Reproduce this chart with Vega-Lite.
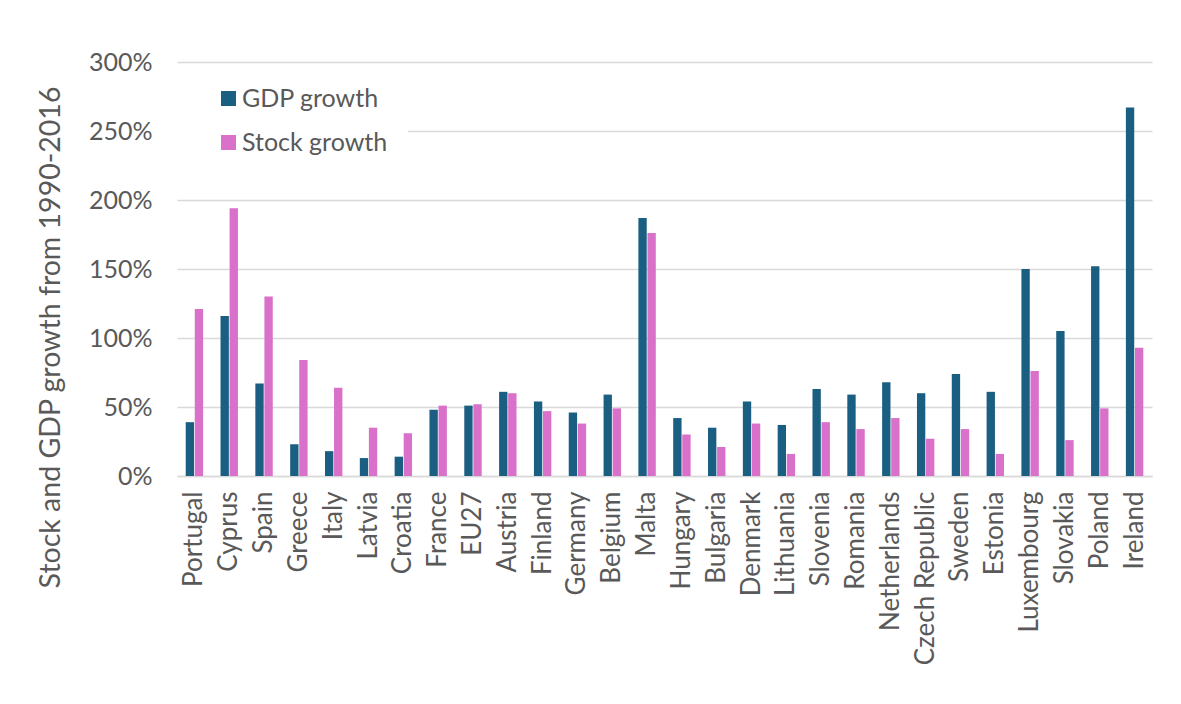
{
  "$schema": "https://vega.github.io/schema/vega-lite/v6.json",
  "width": 975,
  "height": 414,
  "autosize": {"type": "none"},
  "padding": {"left": 177, "top": 62, "right": 29, "bottom": 228},
  "background": "white",
  "data": {"values": [
    {"country": "Portugal", "series": "GDP growth", "value": 0.39},
    {"country": "Portugal", "series": "Stock growth", "value": 1.21},
    {"country": "Cyprus", "series": "GDP growth", "value": 1.16},
    {"country": "Cyprus", "series": "Stock growth", "value": 1.94},
    {"country": "Spain", "series": "GDP growth", "value": 0.67},
    {"country": "Spain", "series": "Stock growth", "value": 1.30},
    {"country": "Greece", "series": "GDP growth", "value": 0.23},
    {"country": "Greece", "series": "Stock growth", "value": 0.84},
    {"country": "Italy", "series": "GDP growth", "value": 0.18},
    {"country": "Italy", "series": "Stock growth", "value": 0.64},
    {"country": "Latvia", "series": "GDP growth", "value": 0.13},
    {"country": "Latvia", "series": "Stock growth", "value": 0.35},
    {"country": "Croatia", "series": "GDP growth", "value": 0.14},
    {"country": "Croatia", "series": "Stock growth", "value": 0.31},
    {"country": "France", "series": "GDP growth", "value": 0.48},
    {"country": "France", "series": "Stock growth", "value": 0.51},
    {"country": "EU27", "series": "GDP growth", "value": 0.51},
    {"country": "EU27", "series": "Stock growth", "value": 0.52},
    {"country": "Austria", "series": "GDP growth", "value": 0.61},
    {"country": "Austria", "series": "Stock growth", "value": 0.60},
    {"country": "Finland", "series": "GDP growth", "value": 0.54},
    {"country": "Finland", "series": "Stock growth", "value": 0.47},
    {"country": "Germany", "series": "GDP growth", "value": 0.46},
    {"country": "Germany", "series": "Stock growth", "value": 0.38},
    {"country": "Belgium", "series": "GDP growth", "value": 0.59},
    {"country": "Belgium", "series": "Stock growth", "value": 0.49},
    {"country": "Malta", "series": "GDP growth", "value": 1.87},
    {"country": "Malta", "series": "Stock growth", "value": 1.76},
    {"country": "Hungary", "series": "GDP growth", "value": 0.42},
    {"country": "Hungary", "series": "Stock growth", "value": 0.30},
    {"country": "Bulgaria", "series": "GDP growth", "value": 0.35},
    {"country": "Bulgaria", "series": "Stock growth", "value": 0.21},
    {"country": "Denmark", "series": "GDP growth", "value": 0.54},
    {"country": "Denmark", "series": "Stock growth", "value": 0.38},
    {"country": "Lithuania", "series": "GDP growth", "value": 0.37},
    {"country": "Lithuania", "series": "Stock growth", "value": 0.16},
    {"country": "Slovenia", "series": "GDP growth", "value": 0.63},
    {"country": "Slovenia", "series": "Stock growth", "value": 0.39},
    {"country": "Romania", "series": "GDP growth", "value": 0.59},
    {"country": "Romania", "series": "Stock growth", "value": 0.34},
    {"country": "Netherlands", "series": "GDP growth", "value": 0.68},
    {"country": "Netherlands", "series": "Stock growth", "value": 0.42},
    {"country": "Czech Republic", "series": "GDP growth", "value": 0.60},
    {"country": "Czech Republic", "series": "Stock growth", "value": 0.27},
    {"country": "Sweden", "series": "GDP growth", "value": 0.74},
    {"country": "Sweden", "series": "Stock growth", "value": 0.34},
    {"country": "Estonia", "series": "GDP growth", "value": 0.61},
    {"country": "Estonia", "series": "Stock growth", "value": 0.16},
    {"country": "Luxembourg", "series": "GDP growth", "value": 1.50},
    {"country": "Luxembourg", "series": "Stock growth", "value": 0.76},
    {"country": "Slovakia", "series": "GDP growth", "value": 1.05},
    {"country": "Slovakia", "series": "Stock growth", "value": 0.26},
    {"country": "Poland", "series": "GDP growth", "value": 1.52},
    {"country": "Poland", "series": "Stock growth", "value": 0.49},
    {"country": "Ireland", "series": "GDP growth", "value": 2.67},
    {"country": "Ireland", "series": "Stock growth", "value": 0.93}
  ]},
  "mark": {"type": "bar"},
  "encoding": {
    "x": {
      "field": "country", "type": "nominal", "sort": null,
      "scale": {"paddingInner": 0.5, "paddingOuter": 0.25},
      "axis": {
        "title": null, "labelAngle": 270, "labelFontSize": 26, "labelPadding": 15,
        "ticks": false, "domain": true, "domainColor": "#d9d9d9", "domainWidth": 1.5,
        "labelColor": "#595959", "labelFont": "Lato", "labelLimit": 300
      }
    },
    "xOffset": {"field": "series", "type": "nominal", "scale": {"paddingInner": 0.08}},
    "y": {
      "field": "value", "type": "quantitative",
      "scale": {"domain": [0, 3], "nice": false},
      "axis": {
        "title": "Stock and GDP growth from 1990-2016",
        "values": [0, 0.5, 1, 1.5, 2, 2.5, 3], "format": ".0%",
        "labelFontSize": 25, "labelPadding": 25, "labelColor": "#595959", "labelFont": "Lato",
        "ticks": false, "domain": false,
        "grid": true, "gridColor": "#d9d9d9", "gridWidth": 1.5,
        "titleFont": "Lato", "titleFontSize": 28.5, "titleFontWeight": "normal", "titleColor": "#595959",
        "titleX": -127, "titleY": 275, "titleAlign": "center", "titleBaseline": "middle"
      }
    },
    "color": {
      "field": "series", "type": "nominal",
      "scale": {"domain": ["GDP growth", "Stock growth"], "range": ["#1a5f82", "#d970c9"]},
      "legend": {
        "title": null, "orient": "none", "legendX": 0, "legendY": 4,
        "fillColor": "white", "padding": 20, "symbolOffset": 19,
        "symbolType": "square", "symbolSize": 225, "symbolStrokeWidth": 0,
        "labelFont": "Lato", "labelFontSize": 25, "labelColor": "#595959",
        "rowPadding": 18, "labelOffset": 1
      }
    }
  },
  "config": {"view": {"stroke": null}}
}
